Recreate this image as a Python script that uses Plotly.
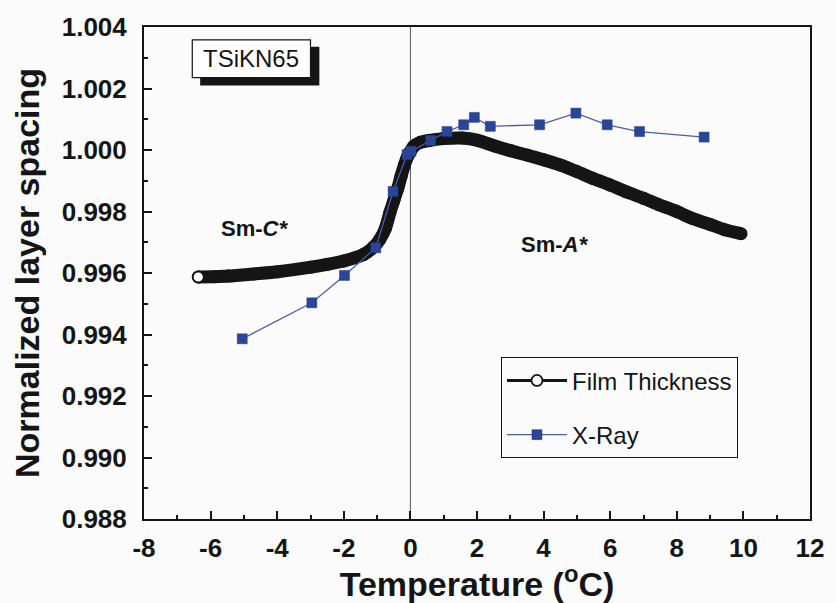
import plotly.graph_objects as go

# ---- data ----
film_temp = [-6.37, -5.9, -5.46, -4.7, -3.98, -2.99, -2.5, -2.0, -1.41, -1.1, -0.92,
             -0.75, -0.62, -0.5, -0.38, -0.28, -0.18, -0.1, -0.03, 0.1, 0.3, 0.56,
             1.0, 1.55, 2.0, 2.53, 3.0, 3.52, 4.0, 4.51, 5.0, 5.49, 6.0, 6.48, 7.0,
             7.46, 8.0, 8.45, 9.0, 9.43, 9.93]
film_spacing = [0.99587, 0.99588, 0.99590, 0.99597, 0.99604, 0.99619, 0.99628, 0.99639,
                0.99660, 0.99685, 0.99709, 0.99745, 0.99795, 0.99835, 0.99875, 0.99915,
                0.99951, 0.99975, 0.99990, 1.00012, 1.00025, 1.00031, 1.00037, 1.00039,
                1.00032, 1.00013, 0.99998, 0.99983, 0.99968, 0.99951, 0.99930, 0.99907,
                0.99886, 0.99864, 0.99843, 0.99822, 0.99800, 0.99778, 0.99758, 0.99741,
                0.99728]

xray_temp = [-5.05, -2.96, -1.98, -1.04, -0.52, -0.1, 0.02, 0.61, 1.1, 1.6, 1.92,
             2.4, 3.88, 4.97, 5.91, 6.88, 8.82]
xray_spacing = [0.99386, 0.99503, 0.99592, 0.99682, 0.99865, 0.99985, 0.99996, 1.00031,
                1.00060, 1.00082, 1.00106, 1.00077, 1.00082, 1.00120, 1.00082, 1.00060,
                1.00042]

x_ticks = [-8, -6, -4, -2, 0, 2, 4, 6, 8, 10, 12]
y_ticks = [0.988, 0.990, 0.992, 0.994, 0.996, 0.998, 1.000, 1.002, 1.004]

FONT = "Liberation Sans, Arial, sans-serif"
INK = "#151515"
BG = "#fbfbfb"

fig = go.Figure()

# thick band of overlapping open circles (film thickness)
fig.add_trace(go.Scatter(
    x=film_temp, y=film_spacing, mode="lines+markers",
    line=dict(color=INK, width=13, shape="spline", smoothing=0.6),
    marker=dict(symbol="circle", size=13, color=INK),
    showlegend=False, hoverinfo="skip", legendgroup="a"))

# first point drawn as open circle; also serves as legend entry
fig.add_trace(go.Scatter(
    x=film_temp[:1], y=film_spacing[:1], mode="lines+markers",
    name="Film Thickness", legendgroup="a",
    line=dict(color=INK, width=3),
    marker=dict(symbol="circle", size=11, color="white",
                line=dict(color=INK, width=1.8))))

fig.add_trace(go.Scatter(
    x=xray_temp, y=xray_spacing, mode="lines+markers", name="X-Ray",
    legendgroup="b",
    line=dict(color="#4a5cae", width=1.3),
    marker=dict(symbol="square", size=10, color="#2b4697",
                line=dict(color="#22388a", width=0.5))))

# TSiKN65 box with shadow
fig.add_shape(type="rect", xref="paper", yref="paper",
              x0=0.0843, x1=0.2633, y0=0.881, y1=0.9597,
              fillcolor=INK, line=dict(width=0), layer="above")
fig.add_shape(type="rect", xref="paper", yref="paper",
              x0=0.0725, x1=0.250, y0=0.8972, y1=0.9738,
              fillcolor="white", line=dict(color=INK, width=1.2), layer="above")
fig.add_annotation(text="TSiKN65", xref="paper", yref="paper", x=0.161, y=0.936,
                   xanchor="center", yanchor="middle",
                   showarrow=False, font=dict(family=FONT, size=24, color=INK))

# vertical line at transition
fig.add_shape(type="line", xref="x", yref="paper", x0=0, x1=0, y0=0, y1=1,
              line=dict(color="#555555", width=1), layer="below")

fig.add_annotation(text="<b>Sm-<i>C*</i></b>", x=-4.69, y=0.99745, showarrow=False,
                   xanchor="center", yanchor="middle",
                   font=dict(family=FONT, size=22, color=INK))
fig.add_annotation(text="<b>Sm-<i>A*</i></b>", x=4.34, y=0.99694, showarrow=False,
                   xanchor="center", yanchor="middle",
                   font=dict(family=FONT, size=22, color=INK))

axis_common = dict(showline=True, linecolor=INK, linewidth=2, mirror=True,
                   ticks="inside", tickcolor=INK, tickwidth=1.5, ticklen=8,
                   showgrid=False, zeroline=False,
                   tickfont=dict(family=FONT, size=26, color=INK, weight="bold"))

fig.update_xaxes(range=[-8, 12], tickvals=x_ticks,
                 ticktext=[f"<b>{v}</b>" for v in x_ticks],
                 minor=dict(dtick=1, ticks="inside", ticklen=4, tickcolor=INK, tickwidth=1.5),
                 title=dict(text="<b>Temperature (<sup>o</sup>C)</b>", standoff=4,
                            font=dict(family=FONT, size=34, color=INK)),
                 ticklabelstandoff=5, **axis_common)
fig.update_yaxes(range=[0.988, 1.004], tickvals=y_ticks,
                 ticktext=[f"<b>{v:.3f}</b>" for v in y_ticks],
                 minor=dict(dtick=0.001, ticks="inside", ticklen=4, tickcolor=INK, tickwidth=1.5),
                 title=dict(text="<b>Normalized layer spacing</b>", standoff=12,
                            font=dict(family=FONT, size=34, color=INK)),
                 ticklabelstandoff=10, **axis_common)

fig.update_layout(
    width=836, height=603,
    margin=dict(l=144, r=16, t=24, b=83),
    paper_bgcolor=BG, plot_bgcolor=BG,
    font=dict(family=FONT, color=INK),
    legend=dict(x=0.536, y=0.3286, xanchor="left", yanchor="top",
                bgcolor=BG, bordercolor=INK, borderwidth=1,
                font=dict(family=FONT, size=24, color=INK),
                traceorder="grouped", tracegroupgap=20, itemwidth=60),
)

fig.write_html("out.html")
